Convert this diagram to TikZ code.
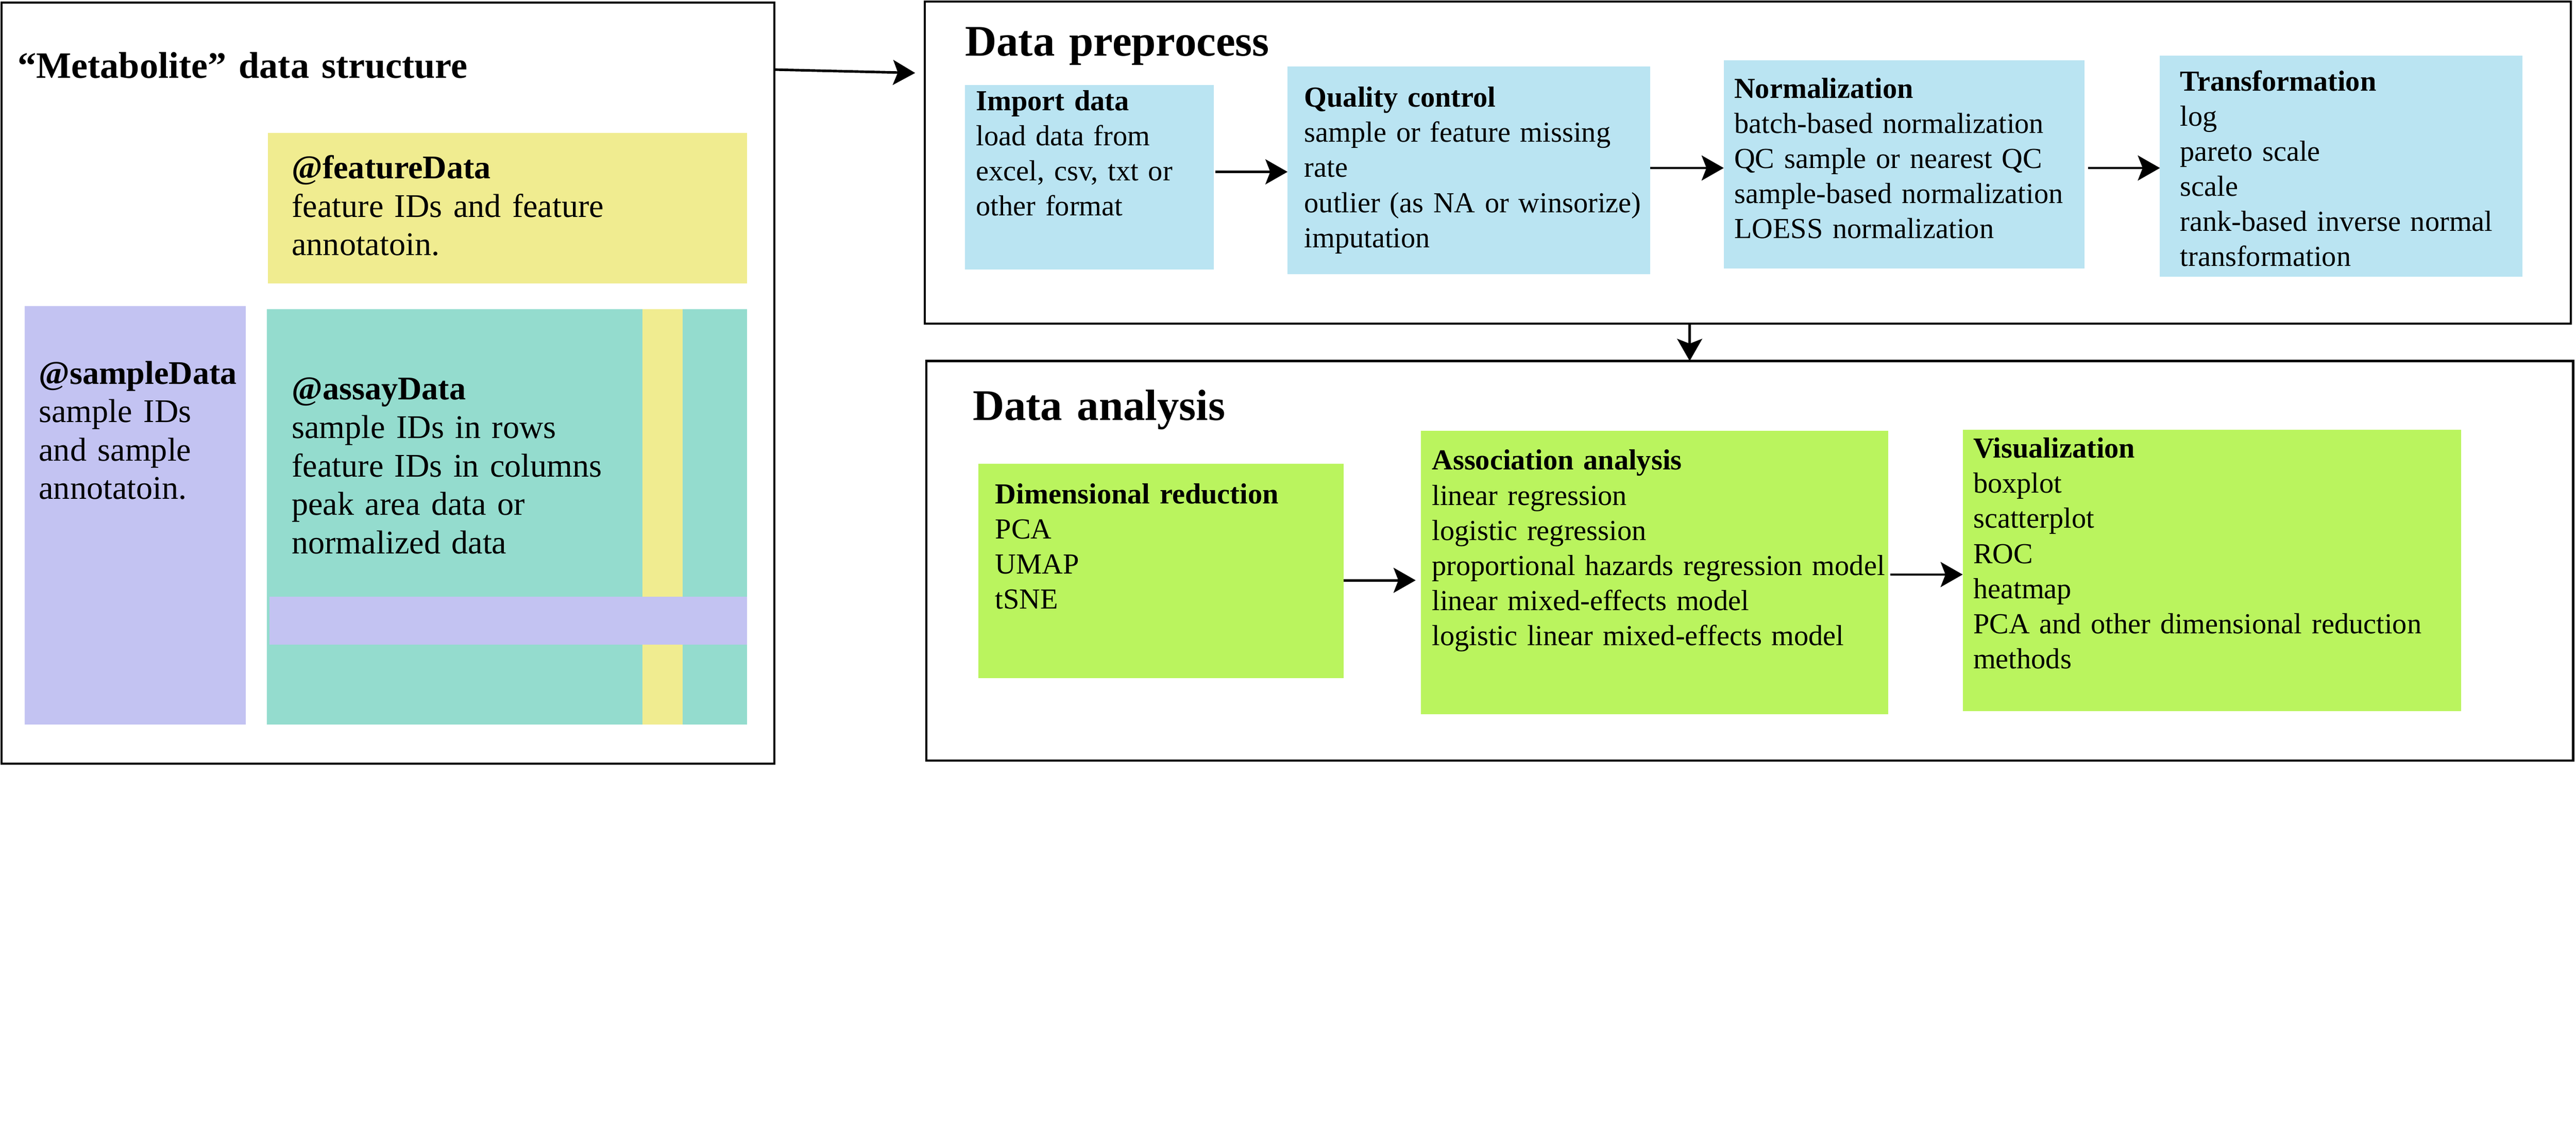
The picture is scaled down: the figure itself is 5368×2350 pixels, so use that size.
\documentclass[tikz,border=0pt]{standalone}
\usepackage{fontspec}
\setmainfont{Liberation Serif}
\usetikzlibrary{arrows.meta,calc}
\definecolor{cyel}{RGB}{240,236,144}
\definecolor{cpur}{RGB}{195,195,242}
\definecolor{cteal}{RGB}{148,220,206}
\definecolor{cblue}{RGB}{186,228,242}
\definecolor{cgreen}{RGB}{186,244,94}
\begin{document}
\begin{tikzpicture}[x=0.01cm,y=-0.01cm,
  rbox/.style 2 args={anchor=north west, inner sep=0, outer sep=0,
    minimum width=#1*0.01cm, minimum height=#2*0.01cm},
  frame/.style={draw=black, line width=1.28pt},
  txt/.style={anchor=base west, inner sep=0, outer sep=0, align=left, text width=12cm},
  bigtxt/.style={txt, font=\fontsize{19.6}{22.76}\selectfont},
  smalltxt/.style={txt, font=\fontsize{17.2}{20.8}\selectfont},
  ttl/.style={txt, font=\fontsize{25.9}{30}\selectfont\bfseries},
  arr/.style={line width=1.5pt, -{Stealth[length=0.46cm, width=0.52cm, inset=0.1cm]}}]
\useasboundingbox (0,0) rectangle (5368,2350);

% ---------- Metabolite data structure ----------
\node[rbox={1611}{1586}, frame] (meta) at (3,5) {};
\node[txt, font=\fontsize{22.05}{26}\selectfont\bfseries] (metattl) at (37,163) {“Metabolite” data structure};
\node[rbox={999}{313}, fill=cyel] (feat) at (558,277) {};
\node[rbox={461}{871}, fill=cpur] (samp) at (51,638) {};
\node[rbox={1001}{865}, fill=cteal] (assay) at (556,644) {};
\node[rbox={83}{865}, fill=cyel] (ystripe) at (1339,644) {};
\node[rbox={996}{100}, fill=cpur] (pstripe) at (561,1243) {};
\node[bigtxt] (feattxt) at (608,372) {\textbf{@featureData}\\feature IDs and feature\\annotatoin.};
\node[bigtxt] (samptxt) at (81,800) {\textbf{@sampleData}\\sample IDs\\and sample\\annotatoin.};
\node[bigtxt] (assaytxt) at (608,833) {\textbf{@assayData}\\sample IDs in rows\\feature IDs in columns\\peak area data or\\normalized data};

% ---------- Data preprocess ----------
\node[rbox={3430}{671}, frame] (prep) at (1927,3) {};
\node[ttl] (prepttl) at (2011,117) {Data preprocess};
\node[rbox={518}{384}, fill=cblue] (imp) at (2011,177) {};
\node[rbox={756}{433}, fill=cblue] (qc) at (2683,138) {};
\node[rbox={752}{433}, fill=cblue] (norm) at (3592,126) {};
\node[rbox={755}{461}, fill=cblue] (trans) at (4501,116) {};
\node[smalltxt] (imptxt) at (2034,230) {\textbf{Import data}\\load data from\\excel, csv, txt or\\other format};
\node[smalltxt] (qctxt) at (2718,223) {\textbf{Quality control}\\sample or feature missing\\rate\\outlier (as NA or winsorize)\\imputation};
\node[smalltxt] (normtxt) at (3614,204) {\textbf{Normalization}\\batch-based normalization\\QC sample or nearest QC\\sample-based normalization\\LOESS normalization};
\node[smalltxt] (transtxt) at (4543,189) {\textbf{Transformation}\\log\\pareto scale\\scale\\rank-based inverse normal\\transformation};

% ---------- Data analysis ----------
\node[rbox={3432}{833}, frame] (ana) at (1930,752) {};
\node[ttl] (anattl) at (2027,875) {Data analysis};
\node[rbox={761}{447}, fill=cgreen] (dim) at (2039,966) {};
\node[rbox={974}{590}, fill=cgreen] (assoc) at (2961,898) {};
\node[rbox={1038}{587}, fill=cgreen] (vis) at (4090,895) {};
\node[smalltxt] (dimtxt) at (2074,1049) {\textbf{Dimensional reduction}\\PCA\\UMAP\\tSNE};
\node[smalltxt] (assoctxt) at (2984,979) {\textbf{Association analysis}\\linear regression\\logistic regression\\proportional hazards regression model\\linear mixed-effects model\\logistic linear mixed-effects model};
\node[smalltxt] (vistxt) at (4112,954) {\textbf{Visualization}\\boxplot\\scatterplot\\ROC\\heatmap\\PCA and other dimensional reduction\\methods};

% ---------- connectors ----------
\coordinate (y1) at (0,358);
\coordinate (y2) at (0,350);
\coordinate (y3) at (1200,1209);
\coordinate (y4) at (1200,1197);
\coordinate (xd) at (3521,0);
\coordinate (metaend) at (1907,152);
\draw[arr] ($(meta.north east)+(0,140)$) -- (metaend);
\draw[arr] ($(imp.east |- y1)+(4,0)$) -- (qc.west |- y1);
\draw[arr] (qc.east |- y2) -- (norm.west |- y2);
\draw[arr] ($(norm.east |- y2)+(7,0)$) -- (trans.west |- y2);
\draw[arr] (prep.south -| xd) -- (ana.north -| xd);
\draw[arr] (dim.east |- y3) -- ($(assoc.west |- y3)+(-11,0)$);
\draw[arr] ($(assoc.east |- y4)+(4,0)$) -- (vis.west |- y4);
\end{tikzpicture}
\end{document}
